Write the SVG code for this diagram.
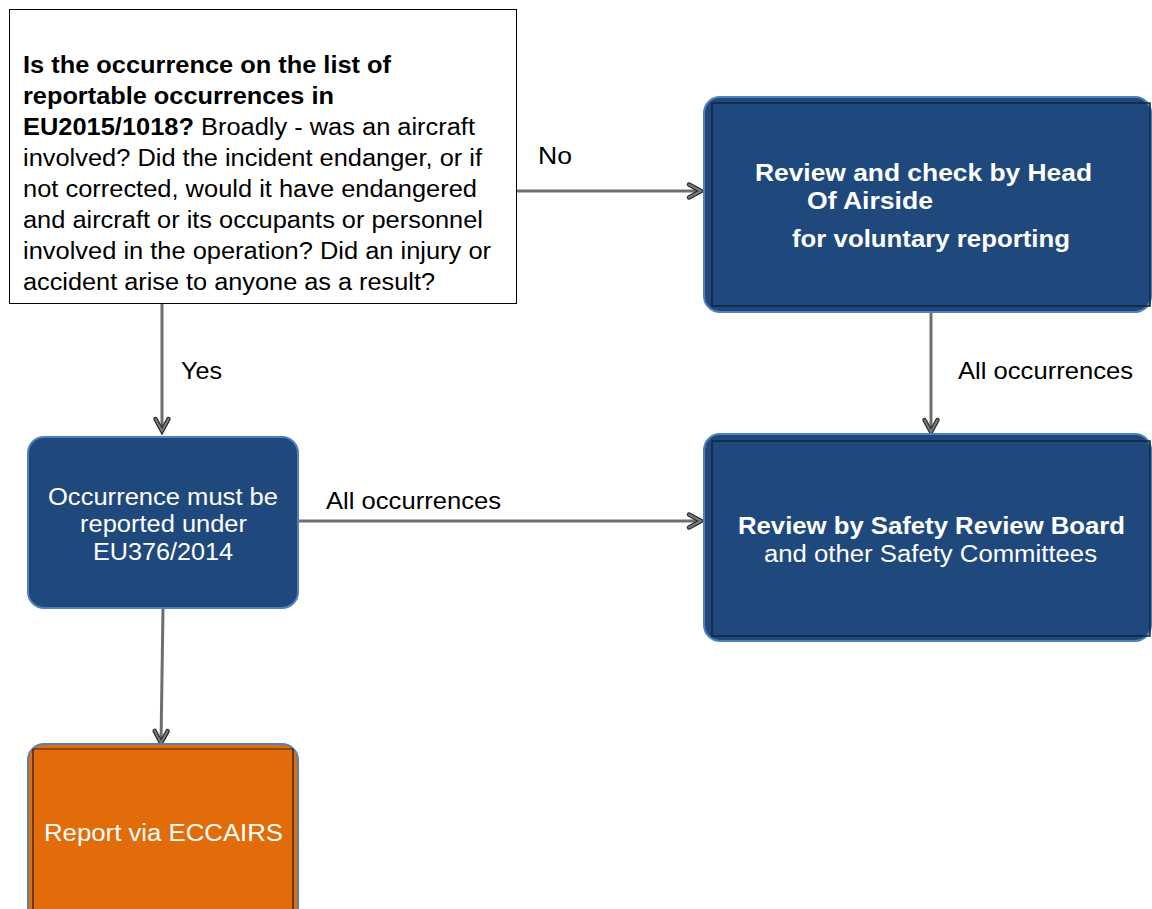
<svg xmlns="http://www.w3.org/2000/svg" width="1152" height="909" viewBox="0 0 1152 909">
  <defs>
    <style>
      text { font-family: "Liberation Sans", Arial, sans-serif; }
      .q { font-size: 23px; fill: #000; }
      .lbl { font-size: 24px; fill: #000; }
      .wt { font-size: 23px; fill: #fff; }
      .b { font-weight: bold; }
      .blue { fill: #1f497d; stroke: #4f81bd; stroke-width: 2; }
      .orange { fill: #e36c0a; stroke: #4f81bd; stroke-width: 2; }
      .inner { fill: none; stroke: #0f2440; stroke-width: 1.5; }
      .conn { fill: none; stroke: #6e6e6e; stroke-width: 3; }
    </style>
    <marker id="chev" viewBox="0 0 16 16" refX="14" refY="8" markerWidth="16" markerHeight="16" markerUnits="userSpaceOnUse" orient="auto" overflow="visible">
      <path d="M2,1.5 L14,8 L2,14.5" fill="none" stroke="#2a2a2a" stroke-width="4.4" stroke-linejoin="miter" stroke-linecap="round"/>
      <path d="M2,1.5 L14,8 L2,14.5" fill="none" stroke="#7a7a7a" stroke-width="2" stroke-linejoin="miter" stroke-linecap="round"/>
    </marker>
  </defs>
  <rect width="1152" height="909" fill="#fff"/>

  <!-- connectors -->
  <g id="connectors">
    <line class="conn" x1="517" y1="191" x2="701" y2="191" marker-end="url(#chev)"/>
    <text class="lbl" x="538" y="164" textLength="34" lengthAdjust="spacingAndGlyphs">No</text>
    <line class="conn" x1="162" y1="304" x2="162" y2="431" marker-end="url(#chev)"/>
    <text class="lbl" x="181" y="379" textLength="41" lengthAdjust="spacingAndGlyphs">Yes</text>
    <line class="conn" x1="931" y1="312" x2="931" y2="432" marker-end="url(#chev)"/>
    <text class="lbl" x="958" y="379" textLength="175" lengthAdjust="spacingAndGlyphs">All occurrences</text>
    <line class="conn" x1="298" y1="521" x2="701" y2="521" marker-end="url(#chev)"/>
    <text class="lbl" x="326" y="509" textLength="175" lengthAdjust="spacingAndGlyphs">All occurrences</text>
    <line class="conn" x1="163" y1="609" x2="161" y2="743" marker-end="url(#chev)"/>
  </g>

  <!-- decision question -->
  <g id="question">
    <rect x="9.5" y="9.5" width="507" height="294" fill="#fff" stroke="#000" stroke-width="1"/>
    <text class="q b" x="23" y="72.5" textLength="368" lengthAdjust="spacingAndGlyphs">Is the occurrence on the list of</text>
    <text class="q b" x="23" y="103.5" textLength="311" lengthAdjust="spacingAndGlyphs">reportable occurrences in</text>
    <text class="q" x="23" y="134.5" textLength="452" lengthAdjust="spacingAndGlyphs"><tspan class="b">EU2015/1018?</tspan> Broadly - was an aircraft</text>
    <text class="q" x="23" y="165.5" textLength="459" lengthAdjust="spacingAndGlyphs">involved? Did the incident endanger, or if</text>
    <text class="q" x="23" y="196.5" textLength="454" lengthAdjust="spacingAndGlyphs">not corrected, would it have endangered</text>
    <text class="q" x="23" y="227.5" textLength="460" lengthAdjust="spacingAndGlyphs">and aircraft or its occupants or personnel</text>
    <text class="q" x="23" y="258.5" textLength="468" lengthAdjust="spacingAndGlyphs">involved in the operation? Did an injury or</text>
    <text class="q" x="23" y="289.5" textLength="412" lengthAdjust="spacingAndGlyphs">accident arise to anyone as a result?</text>
  </g>

  <!-- voluntary review -->
  <g id="head-of-airside">
    <rect class="blue" x="704" y="97" width="447" height="215" rx="16"/>
    <rect class="inner" x="712" y="103" width="438" height="203"/>
    <text class="wt b" x="755" y="181" textLength="337" lengthAdjust="spacingAndGlyphs">Review and check by Head</text>
    <text class="wt b" x="807" y="209" textLength="126" lengthAdjust="spacingAndGlyphs">Of Airside</text>
    <text class="wt b" x="792" y="247" textLength="278" lengthAdjust="spacingAndGlyphs">for voluntary reporting</text>
  </g>

  <!-- mandatory reporting -->
  <g id="mandatory">
    <rect class="blue" x="28" y="437" width="270" height="171" rx="16"/>
    <text class="wt" x="48" y="505" textLength="230" lengthAdjust="spacingAndGlyphs">Occurrence must be</text>
    <text class="wt" x="80" y="532" textLength="167" lengthAdjust="spacingAndGlyphs">reported under</text>
    <text class="wt" x="93" y="559.5" textLength="140" lengthAdjust="spacingAndGlyphs">EU376/2014</text>
  </g>

  <!-- safety review board -->
  <g id="safety-review-board">
    <rect class="blue" x="704" y="434" width="447" height="207" rx="16"/>
    <rect class="inner" x="712" y="441" width="438" height="195"/>
    <text class="wt b" x="738" y="534" textLength="387" lengthAdjust="spacingAndGlyphs">Review by Safety Review Board</text>
    <text class="wt" x="764" y="562" textLength="333" lengthAdjust="spacingAndGlyphs">and other Safety Committees</text>
  </g>

  <!-- ECCAIRS -->
  <g id="eccairs">
    <rect class="orange" x="28" y="744" width="270" height="190" rx="16"/>
    <line x1="33" y1="749" x2="293" y2="749" stroke="#7a3a05" stroke-width="1.5"/>
    <line x1="33" y1="749" x2="33" y2="909" stroke="#000" stroke-width="1"/>
    <line x1="293" y1="749" x2="293" y2="909" stroke="#000" stroke-width="1"/>
    <text class="wt" x="44" y="840.5" textLength="239" lengthAdjust="spacingAndGlyphs">Report via ECCAIRS</text>
  </g>
</svg>
